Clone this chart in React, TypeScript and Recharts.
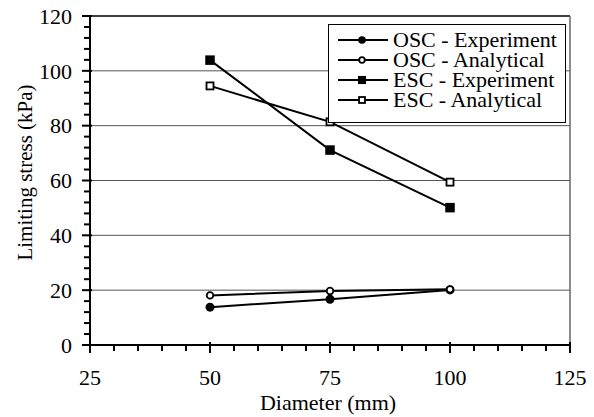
import React from "react";
import { LineChart, Line, XAxis, YAxis, ReferenceLine, Legend, Label } from "recharts";

const FONT = '"Liberation Serif", "Times New Roman", serif';

// diameter (mm)
const diameters = [50, 75, 100];
// limiting stress (kPa)
const oscExperiment = [13.8, 16.7, 20.1];
const oscAnalytical = [18.1, 19.7, 20.3];
const escExperiment = [103.9, 71.1, 50.1];
const escAnalytical = [94.5, 81.4, 59.4];

const seriesNames = ["OSC - Experiment", "OSC - Analytical", "ESC - Experiment", "ESC - Analytical"];
const seriesKeys = ["oscExp", "oscAna", "escExp", "escAna"];

const xLabels = [25, 50, 75, 100, 125];
const yLabels = [0, 20, 40, 60, 80, 100, 120];
const gridValues = [20, 40, 60, 80, 100];
const xMinor = Array.from({ length: 21 }, (_, i) => 25 + i * 5);
const yMinor = Array.from({ length: 31 }, (_, i) => i * 4);

const data = diameters.map((d, i) => ({
  d,
  oscExp: oscExperiment[i],
  oscAna: oscAnalytical[i],
  escExp: escExperiment[i],
  escAna: escAnalytical[i]
}));

const marker = (kind: number, cx: number, cy: number, small = false) => {
  const k = small ? 0.85 : 1;
  if (kind === 0) return <circle cx={cx} cy={cy} r={4.5 * k} fill="#000" />;
  if (kind === 1) return <circle cx={cx} cy={cy} r={3.3 * k} fill="#fff" stroke="#000" strokeWidth={1.8} />;
  if (kind === 2) {
    const s = 9.5 * k;
    return <rect x={cx - s / 2} y={cy - s / 2} width={s} height={s} fill="#000" />;
  }
  const s = 7 * k;
  return <rect x={cx - s / 2} y={cy - s / 2} width={s} height={s} fill="#fff" stroke="#000" strokeWidth={1.8} />;
};

const makeDot = (kind: number) => (p: any) => <g key={p.key}>{marker(kind, p.cx, p.cy)}</g>;

const XTick = ({ x, y, payload }: any) => {
  const v = payload.value;
  const major = xLabels.includes(v);
  return <g>
      <line x1={x} x2={x} y1={major ? y - 3 : y} y2={y + (major ? 8 : 6)} stroke="#000" strokeWidth={2} />
      {major && <text x={x} y={y + 40} textAnchor="middle" fontSize={22} fontFamily={FONT} fill="#000">{v}</text>}
    </g>;
};

const YTick = ({ x, y, payload }: any) => {
  const v = payload.value;
  const major = yLabels.includes(v);
  return <g>
      <line x1={major ? x - 8 : x - 6} x2={x + (major ? 2 : 0)} y1={y} y2={y} stroke="#000" strokeWidth={2} />
      {major && <text x={x - 18} y={y} dy="0.35em" textAnchor="end" fontSize={22} fontFamily={FONT} fill="#000">{v}</text>}
    </g>;
};

const LegendBox = () => <div style={{
  width: 238,
  height: 99,
  boxSizing: "border-box",
  border: "1px solid #000",
  background: "#fff",
  padding: "5px 0 0 8px",
  fontFamily: FONT
}}>
    {seriesNames.map((n, i) => <div key={n} style={{ display: "flex", alignItems: "center", height: 20, lineHeight: "20px" }}>
        <svg width={52} height={20}>
          <line x1={1} x2={51} y1={10} y2={10} stroke="#000" strokeWidth={2} />
          {marker(i, 25, 10, true)}
        </svg>
        <span style={{ fontSize: 22, marginLeft: 4, color: "#000", whiteSpace: "nowrap" }}>{n}</span>
      </div>)}
  </div>;

const App = () => {
  return <div style={{ position: "absolute", left: 0, top: 0, width: 594, height: 417, background: "#fff" }}>
      <LineChart width={594} height={417} data={data} margin={{ top: 16, right: 24, left: 0, bottom: 12 }}>
        {gridValues.map(v => <ReferenceLine key={v} y={v} stroke="#555" strokeWidth={1} />)}
        <ReferenceLine y={120} stroke="#000" strokeWidth={1.5} />
        <ReferenceLine x={125} stroke="#666" strokeWidth={1.5} />
        <XAxis type="number" dataKey="d" domain={[25, 125]} ticks={xMinor} interval={0} tickLine={false} tickSize={0} tickMargin={0} tick={XTick} height={60} axisLine={{ stroke: "#000", strokeWidth: 2 }}>
          <Label content={({ viewBox }: any) => <text x={viewBox.x + viewBox.width / 2 - 2} y={viewBox.y + 65} textAnchor="middle" fontSize={22} fontFamily={FONT} fill="#000">Diameter (mm)</text>} />
        </XAxis>
        <YAxis type="number" domain={[0, 120]} ticks={yMinor} interval={0} tickLine={false} tickSize={0} tickMargin={0} tick={YTick} width={90} axisLine={{ stroke: "#000", strokeWidth: 2 }}>
          <Label content={({ viewBox }: any) => {
          const cx = viewBox.x + 25;
          const cy = viewBox.y + viewBox.height / 2 - 8;
          return <text x={cx} y={cy} dy="0.35em" transform={`rotate(-90 ${cx} ${cy})`} textAnchor="middle" fontSize={21} fontFamily={FONT} fill="#000">Limiting stress (kPa)</text>;
        }} />
        </YAxis>
        {seriesKeys.map((k, i) => <Line key={k} dataKey={k} name={seriesNames[i]} type="linear" stroke="#000" strokeWidth={2} dot={makeDot(i)} activeDot={false} isAnimationActive={false} />)}
        <Legend layout="horizontal" verticalAlign="middle" content={() => <LegendBox />} wrapperStyle={{ position: "absolute", left: 328, top: 24, width: 238, height: 99 }} />
      </LineChart>
    </div>;
};

export default App;
